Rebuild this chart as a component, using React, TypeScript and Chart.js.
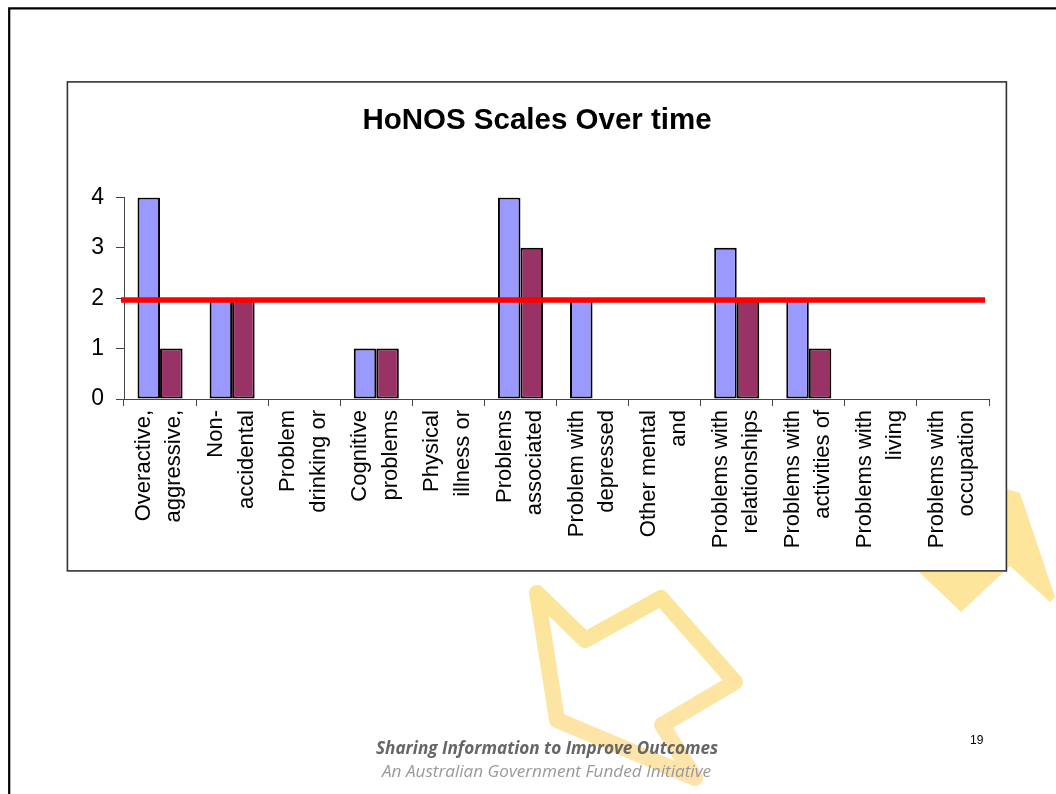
import React, { useEffect, useRef } from "react";
import { Chart, registerables } from "chart.js";

Chart.register(...registerables);

const categories: string[][] = [
  ["Overactive,", "aggressive,"],
  ["Non-", "accidental"],
  ["Problem", "drinking or"],
  ["Cognitive", "problems"],
  ["Physical", "illness or"],
  ["Problems", "associated"],
  ["Problem with", "depressed"],
  ["Other mental", "and"],
  ["Problems with", "relationships"],
  ["Problems with", "activities of"],
  ["Problems with", "living"],
  ["Problems with", "occupation"],
];
const firstRating = [4, 2, null, 1, null, 4, 2, null, 3, 2, null, null];
const secondRating = [1, 2, null, 1, null, 3, null, null, 2, 1, null, null];
const thresholdLine = [
  { x: -0.042, y: 1.965 },
  { x: 11.945, y: 1.965 },
];
const yTicks = [0, 1, 2, 3, 4];
const SANS = '"Liberation Sans", Arial, sans-serif';

export default function App() {
  const ref = useRef<HTMLCanvasElement>(null);
  useEffect(() => {
    const chart = new Chart(ref.current!, {
      type: "bar",
      data: {
        labels: categories as any,
        datasets: [
          {
            type: "line",
            data: thresholdLine as any,
            xAxisID: "x2",
            borderColor: "#FF0000",
            borderWidth: 5.5,
            pointRadius: 0,
            clip: false as any,
            order: 0,
          },
          {
            data: firstRating as any,
            backgroundColor: "#9999FF",
            borderColor: "#000000",
            borderWidth: 2,
            borderSkipped: false as any,
            categoryPercentage: 1.25,
            barPercentage: 1,
            order: 1,
          },
          {
            data: secondRating as any,
            backgroundColor: "#993366",
            borderColor: "#000000",
            borderWidth: 2,
            borderSkipped: false as any,
            categoryPercentage: 1.25,
            barPercentage: 1,
            order: 1,
          },
        ],
      },
      options: {
        responsive: false,
        animation: false,
        layout: { padding: 0 },
        plugins: {
          legend: { display: false },
          tooltip: { enabled: false },
          title: {
            display: true,
            text: "HoNOS Scales Over time",
            color: "#000000",
            font: { family: SANS, size: 29.5, weight: "bold" },
            padding: { top: 21, bottom: 59 },
          },
        },
        scales: {
          x: {
            type: "category",
            offset: true,
            border: { color: "#444444", width: 1 },
            grid: { drawOnChartArea: false, tickLength: 7, color: "#444444", offset: true },
            afterFit: (s: any) => {
              s.height = 173;
              s.paddingLeft = 0;
              s.paddingRight = 18;
            },
            ticks: {
              autoSkip: false,
              minRotation: 90,
              maxRotation: 90,
              color: "#000000",
              padding: 4,
              labelOffset: -16,
              font: { family: SANS, size: 22, lineHeight: 1.38 },
            },
          },
          x2: { type: "linear", display: false, min: 0, max: 12, offset: false, grid: { offset: false } },
          y: {
            min: 0,
            max: 4,
            afterBuildTicks: (s: any) => {
              s.ticks = yTicks.map((value) => ({ value }));
            },
            afterFit: (s: any) => {
              s.width = 57;
            },
            border: { color: "#444444", width: 1 },
            grid: { drawOnChartArea: false, tickLength: 8, color: "#444444" },
            ticks: {
              color: "#000000",
              padding: 12,
              font: { family: SANS, size: 23 },
            },
          },
        },
      },
    } as any);
    return () => chart.destroy();
  }, []);

  return (
    <div style={{ position: "absolute", left: 0, top: 0, width: 1056, height: 794, overflow: "hidden", background: "#fff" }}>
      <svg width={1056} height={794} style={{ position: "absolute", left: 0, top: 0 }}>
        <defs>
          <linearGradient id="arrowFill" x1="0" y1="0" x2="0" y2="1">
            <stop offset="0" stopColor="#FBE597" />
            <stop offset="1" stopColor="#FEE4AC" />
          </linearGradient>
        </defs>
        <path d="M9.2 794V8.4H1056" fill="none" stroke="#000" strokeWidth={2.2} />
        <polygon points="1007,489 1020,493 1055,597 1050,602 1010,566 961,612 918,571" fill="#FDE59B" />
        <polygon
          points="537,593 585,640 661,598 735,682 662,725 695,778 557,720"
          fill="none"
          stroke="url(#arrowFill)"
          strokeWidth={16}
          strokeLinejoin="round"
        />
      </svg>
      <div style={{ position: "absolute", left: 67, top: 82, width: 940, height: 490, background: "#fff" }}>
        <canvas ref={ref} width={940} height={490} style={{ display: "block" }} />
      </div>
      <svg width={1056} height={794} style={{ position: "absolute", left: 0, top: 0, pointerEvents: "none" }}>
        <rect x={67.4} y={81.9} width={939} height={489} fill="none" stroke="#333" strokeWidth={1.6} />
      </svg>
      <div style={{ position: "absolute", left: 970, top: 733, font: `12px ${SANS}`, color: "#000" }}>19</div>
      <div
        style={{
          position: "absolute",
          left: 376,
          top: 736,
          whiteSpace: "nowrap",
          font: 'italic bold 17.15px "Open Sans", sans-serif',
          color: "#666",
        }}
      >
        Sharing Information to Improve Outcomes
      </div>
      <div
        style={{
          position: "absolute",
          left: 382,
          top: 759,
          whiteSpace: "nowrap",
          font: 'italic 17.15px "Open Sans", sans-serif',
          color: "#999",
        }}
      >
        An Australian Government Funded Initiative
      </div>
    </div>
  );
}
